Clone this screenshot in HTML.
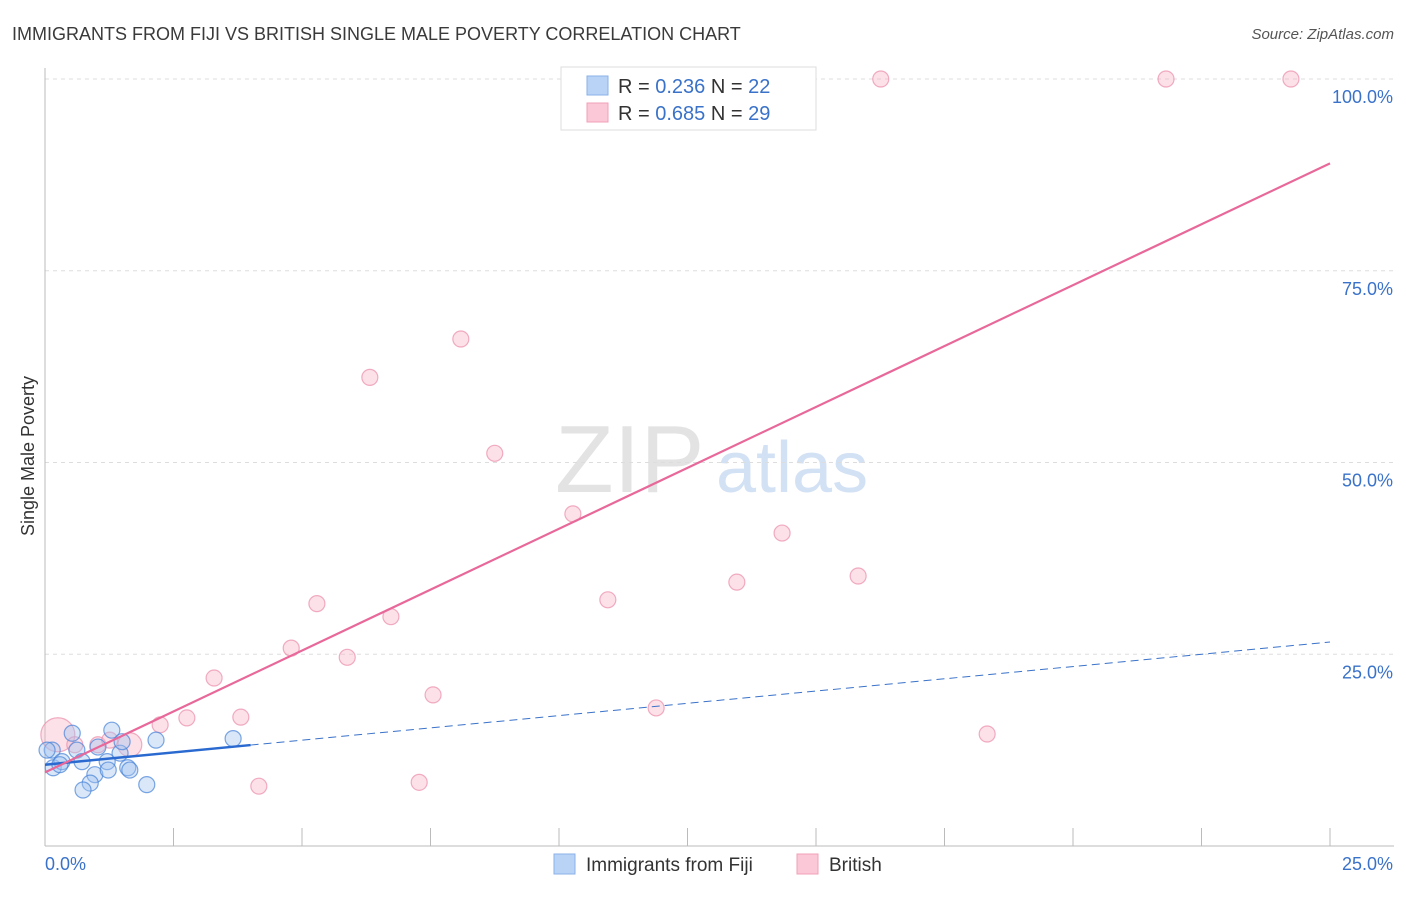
<!DOCTYPE html>
<html><head><meta charset="utf-8">
<style>
body{margin:0;background:#fff;font-family:"Liberation Sans",sans-serif;}
svg text{font-family:"Liberation Sans",sans-serif;}
</style></head>
<body>
<svg id="chart" width="1406" height="892" xmlns="http://www.w3.org/2000/svg">
<text x="12" y="40" font-size="18" fill="#3a3a3a">IMMIGRANTS FROM FIJI VS BRITISH SINGLE MALE POVERTY CORRELATION CHART</text>
<text x="1394" y="39" font-size="15" fill="#555" font-style="italic" text-anchor="end">Source: ZipAtlas.com</text>
<text x="555" y="492" font-size="96" fill="#ddd" font-family="Liberation Serif" opacity="0.8">ZIP</text>
<text x="716" y="492" font-size="72" fill="#c9daf2" opacity="0.8">atlas</text>
<g id="grid"></g>
<g id="axes"></g>
<g id="marks"></g>
<text transform="translate(34,456) rotate(-90)" font-size="18" fill="#333" text-anchor="middle">Single Male Poverty</text>
<g>
<rect x="561" y="67" width="255" height="63" fill="#fff" stroke="#ddd"/>
<rect x="587" y="76" width="21" height="19" fill="#b9d3f7" stroke="#8ab0e8"/>
<rect x="587" y="103" width="21" height="19" fill="#fbc8d7" stroke="#f0a0b8"/>
<text x="618" y="93" font-size="20" fill="#333">R = <tspan fill="#3a72c9">0.236</tspan>   N = <tspan fill="#3a72c9">22</tspan></text>
<text x="618" y="120" font-size="20" fill="#333">R = <tspan fill="#3a72c9">0.685</tspan>   N = <tspan fill="#3a72c9">29</tspan></text>
</g>
<g>
<rect x="554" y="854" width="21" height="20" fill="#b9d3f7" stroke="#8ab0e8"/>
<text x="586" y="871" font-size="19" fill="#333">Immigrants from Fiji</text>
<rect x="797" y="854" width="21" height="20" fill="#fbc8d7" stroke="#f0a0b8"/>
<text x="829" y="871" font-size="19" fill="#333">British</text>
</g>
</svg>
<script>
const fijiX=[0.14,0.16,0.33,0.53,0.62,0.72,0.97,0.88,0.74,1.30,1.21,1.23,1.46,1.50,1.61,1.65,1.98,2.16,3.66,1.03,0.04,0.29];
const fijiY=[12.5,10.2,11.0,14.7,12.5,11.0,9.3,8.2,7.3,15.1,11.0,9.9,12.1,13.6,10.2,9.9,8.0,13.8,14.0,12.9,12.5,10.6];
const britX=[0.25,1.03,1.65,0.58,1.26,2.24,2.76,3.29,3.81,4.16,4.79,5.29,5.88,6.32,6.73,7.28,7.55,8.09,8.75,10.27,10.95,11.89,13.46,14.34,15.82,16.26,18.33,21.81,24.24];
const britY=[14.5,13.2,13.2,13.2,13.8,15.8,16.7,21.9,16.8,7.8,25.8,31.6,24.6,61.1,29.9,8.3,19.7,66.1,51.2,43.3,32.1,18.0,34.4,40.8,35.2,100,14.6,100,100];
const fijiTrend=[10.6,26.6];
const britTrend=[9.6,89.0];
const yTicks=[25,50,75,100];
const yTickLabels=["25.0%","50.0%","75.0%","100.0%"];
const NS="http://www.w3.org/2000/svg";
const X=v=>45+v/25*1285, Y=v=>846-v/100*767;
function mk(tag,attrs,parent){const e=document.createElementNS(NS,tag);for(const k in attrs)e.setAttribute(k,attrs[k]);document.getElementById(parent).appendChild(e);return e;}
yTicks.forEach((t,i)=>{
 const l=mk('line',{x1:45,x2:1394,y1:Y(t),y2:Y(t),stroke:'#ddd','stroke-dasharray':'4,4'},'grid');
 
 
 const tx=mk('text',{x:1393,y:Y(t)+24,'font-size':18,fill:'#3a72c9','text-anchor':'end'},'axes');
 tx.textContent=yTickLabels[i];
 
 
});
let ax=mk('line',{x1:45,x2:1394,y1:846,y2:846,stroke:'#bbb'},'axes');


let ay=mk('line',{x1:45,x2:45,y1:68,y2:846,stroke:'#bbb'},'axes');


for(let i=1;i<=10;i++){const t=mk('line',{x1:X(i*2.5),x2:X(i*2.5),y1:828,y2:846,stroke:'#bbb'},'axes');
 
 }
let x0=mk('text',{x:45,y:870,'font-size':18,fill:'#3a72c9'},'axes');x0.textContent='0.0%';


let x1=mk('text',{x:1393,y:870,'font-size':18,fill:'#3a72c9','text-anchor':'end'},'axes');x1.textContent='25.0%';


britX.forEach((v,i)=>{const r=(i===0)?17:(i===2?12:8);
 const c=mk('circle',{cx:X(v),cy:Y(britY[i]),r:r,fill:'rgba(248,180,200,0.4)',stroke:'rgba(235,140,170,0.7)','stroke-width':1.2},'marks');
 
 });
fijiX.forEach((v,i)=>{
 const c=mk('circle',{cx:X(v),cy:Y(fijiY[i]),r:8,fill:'rgba(160,195,240,0.4)',stroke:'rgba(70,130,215,0.7)','stroke-width':1.2},'marks');
 
 });
const fy=x=>fijiTrend[0]+(fijiTrend[1]-fijiTrend[0])*x/25;
let fd=mk('line',{x1:X(4),y1:Y(fy(4)),x2:X(25),y2:Y(fy(25)),stroke:'#3a72c9','stroke-width':1,'stroke-dasharray':'8,5'},'marks');


let fs=mk('line',{x1:X(0),y1:Y(fy(0)),x2:X(4),y2:Y(fy(4)),stroke:'#2a6ad0','stroke-width':2.5},'marks');


let bl=mk('line',{x1:X(0),y1:Y(britTrend[0]),x2:X(25),y2:Y(britTrend[1]),stroke:'#e8689a','stroke-width':2.2},'marks');


</script>
</body></html>
